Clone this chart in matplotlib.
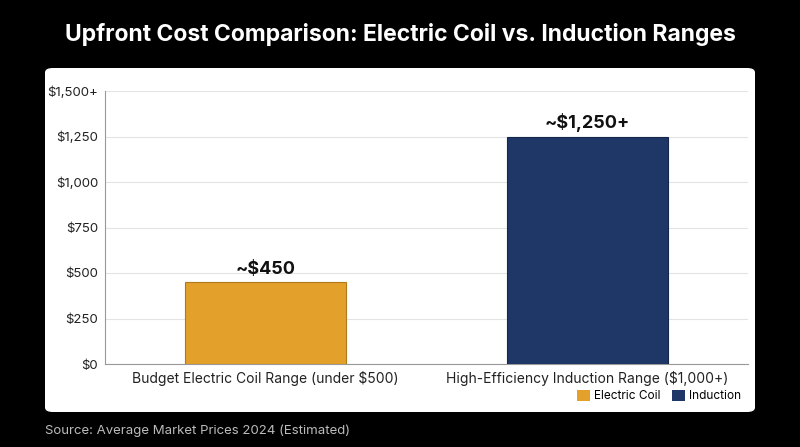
import matplotlib
matplotlib.use("Agg")
import matplotlib.pyplot as plt
from matplotlib.patches import FancyBboxPatch, Patch

categories = ["Budget Electric Coil Range (under $500)", "High-Efficiency Induction Range ($1,000+)"]
values = [450, 1250]
labels = ["~$450", "~$1,250+"]
series = ["Electric Coil", "Induction"]
colors = ["#E3A02B", "#1E3767"]
yticks = [0, 250, 500, 750, 1000, 1250, 1500]
yticklabels = ["$0", "$250", "$500", "$750", "$1,000", "$1,250", "$1,500+"]

plt.rcParams['font.family'] = ['Inter', 'DejaVu Sans']
fig = plt.figure(figsize=(8, 4.47), dpi=100)
fig.patch.set_facecolor("black")
panel = FancyBboxPatch((45/800, 1-412/447), 710/800, 344/447, boxstyle="round,pad=0,rounding_size=0.01",
                       transform=fig.transFigure, facecolor="white", edgecolor="none", zorder=-5)
fig.patches.append(panel)
fig.text(0.5, 1-34/447, "Upfront Cost Comparison: Electric Coil vs. Induction Ranges", color="white",
         fontsize=16.5, fontweight="bold", ha="center", va="center")
fig.text(45/800, 1-431/447, "Source: Average Market Prices 2024 (Estimated)", color="#BBBBBB",
         fontsize=9.5, ha="left", va="center")

ax = fig.add_axes([105/800, 1-364/447, 643/800, 273/447])
ax.set_zorder(2)
ax.set_facecolor("white")
x = [0, 1]
bars = ax.bar(x, values, width=0.5, color=colors, edgecolor=["#B07A1A", "#14264A"], linewidth=0.8, zorder=3)
for xi, v, l in zip(x, values, labels):
    ax.text(xi, v + 25, l, ha="center", va="bottom", fontsize=13, fontweight="bold", color="#111111")
ax.set_xlim(-0.5, 1.5)
ax.set_ylim(0, 1500)
ax.set_yticks(yticks)
ax.set_yticklabels(yticklabels, fontsize=9.5, color="#222222")
ax.set_xticks(x)
ax.set_xticklabels(categories, fontsize=10, color="#222222")
ax.tick_params(length=0, pad=5)
ax.grid(axis="y", color="#E3E3E3", linewidth=0.8, zorder=0)
for s in ["top", "right"]:
    ax.spines[s].set_visible(False)
ax.spines["left"].set_color("#999999")
ax.spines["bottom"].set_color("#999999")
handles = [Patch(facecolor=c, label=s) for c, s in zip(colors, series)]
leg = fig.legend(handles=handles, loc="lower right", bbox_to_anchor=(752/800, 1-413/447), ncol=2, frameon=False,
           fontsize=8.5, handlelength=1.1, handleheight=1.1, columnspacing=0.9, handletextpad=0.4)
leg.set_zorder(5)
fig.savefig("out.png", dpi=100, facecolor="black")
